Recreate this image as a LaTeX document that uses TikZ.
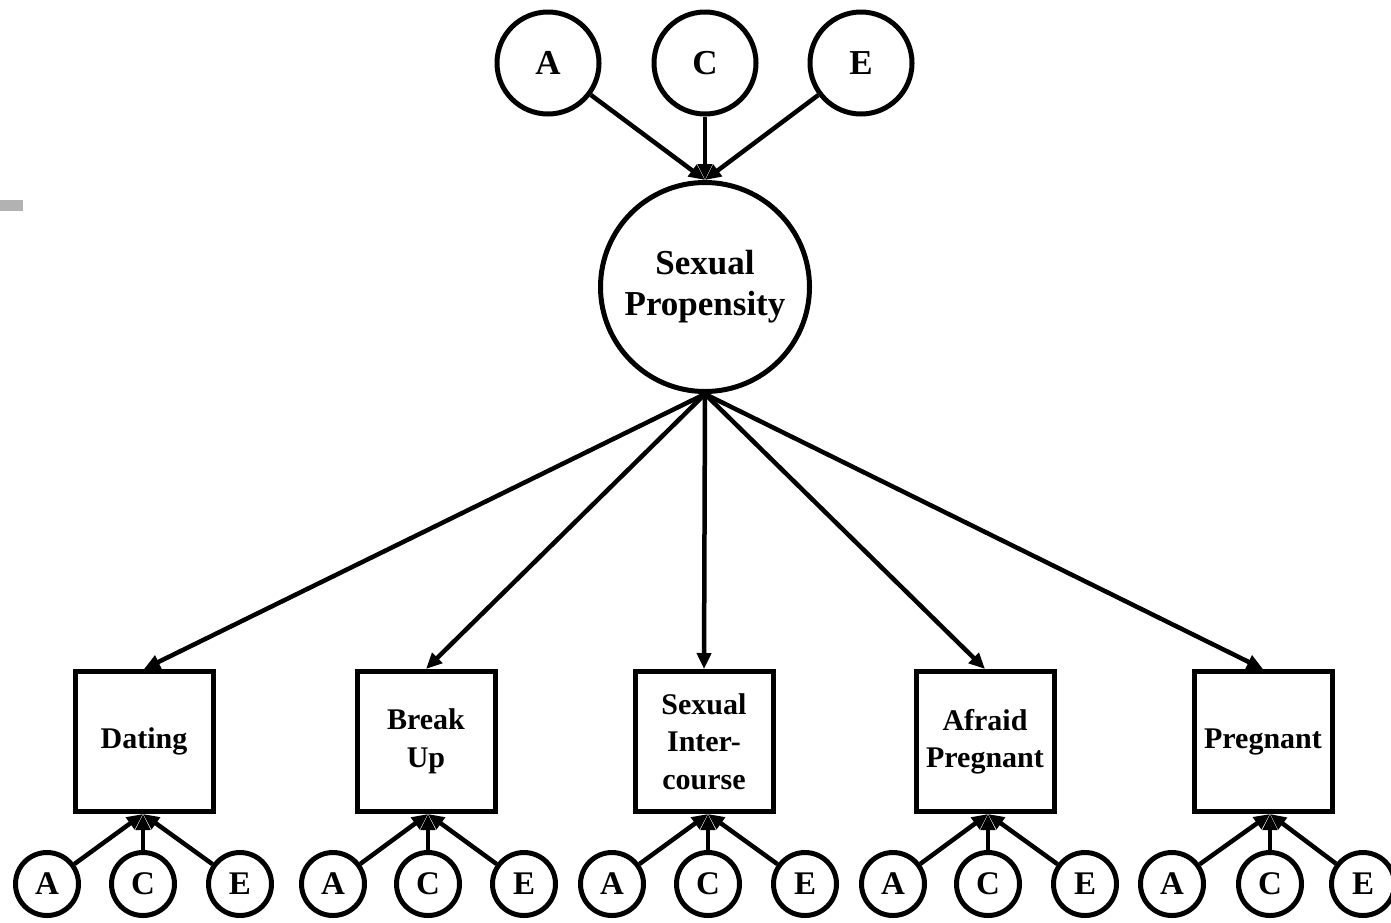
\documentclass[tikz,border=0pt]{standalone}
\usepackage{fontspec}
\setmainfont{Liberation Serif}
\usetikzlibrary{arrows.meta}
\begin{document}
\begin{tikzpicture}[x=1pt,y=-1pt,
  edge/.style={line width=4.5pt,-{Triangle[length=16pt,width=14pt]}},
  topvar/.style={circle,draw,line width=5pt,minimum size=102pt,inner sep=0pt,font=\fontsize{35}{41}\selectfont\bfseries},
  latent/.style={circle,draw,line width=5pt,minimum size=209pt,inner sep=0pt,align=center,font=\fontsize{35}{41}\selectfont\bfseries},
  obsbox/.style={rectangle,draw,line width=5pt,minimum width=138pt,minimum height=140pt,inner sep=0pt,align=center,font=\fontsize{30}{37.5}\selectfont\bfseries},
  smallvar/.style={circle,draw,line width=5pt,minimum size=63pt,inner sep=0pt,font=\fontsize{33}{38}\selectfont\bfseries}]
\useasboundingbox (0,0) rectangle (1391,922);
\fill[black!30] (0,200) rectangle (23,211);
% top
\node[topvar] (tA) at (548,63) {A};
\node[topvar] (tC) at (705,63) {C};
\node[topvar] (tE) at (861,63) {E};
\node[latent] (sp) at (705,287) {Sexual\\Propensity};
\foreach \n in {tA,tC,tE} \draw[edge] (\n) -- (sp.north);
% boxes
\node[obsbox] (b1) at (144,741.5) {Dating};
\node[obsbox] (b2) at (426,741.5) {Break\\Up};
\node[obsbox] (b3) at (704,741.5) {Sexual\\Inter-\\course};
\node[obsbox] (b4) at (985,741.5) {Afraid\\Pregnant};
\node[obsbox] (b5) at (1263,741.5) {Pregnant};
\foreach \b in {b1,b2,b3,b4,b5} \draw[edge] (sp.south) -- (\b.north);
% bottom ACE
\foreach \i/\xa/\xc/\xe in {1/47/143/240, 2/333/428/524, 3/612/708/805, 4/893/988/1085, 5/1172/1270/1363}{
  \node[smallvar] (a\i) at (\xa,884) {A};
  \node[smallvar] (c\i) at (\xc,884) {C};
  \node[smallvar] (e\i) at (\xe,884) {E};
  \coordinate (t\i) at (c\i |- b\i.south);
  \draw[edge] (a\i) -- (t\i);
  \draw[edge] (c\i) -- (t\i);
  \draw[edge] (e\i) -- (t\i);
}
\end{tikzpicture}
\end{document}
